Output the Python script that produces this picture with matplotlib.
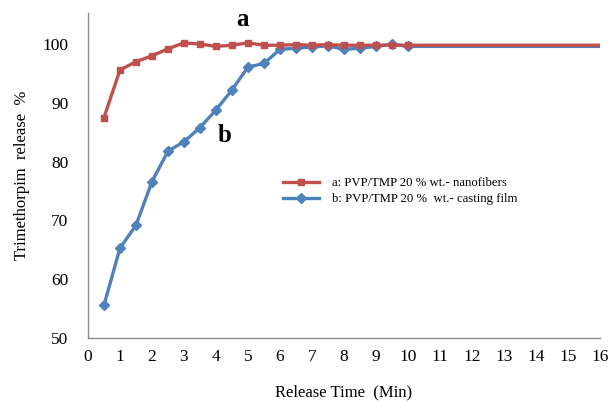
import matplotlib
matplotlib.use("Agg")
import matplotlib.pyplot as plt

plt.rcParams['font.family'] = ['Liberation Serif', 'DejaVu Serif']

# release data
time_min = [0.5, 1, 1.5, 2, 2.5, 3, 3.5, 4, 4.5, 5, 5.5, 6, 6.5, 7, 7.5,
            8, 8.5, 9, 9.5, 10, 16]
release_a = [87.5, 95.6, 97.0, 98.0, 99.2, 100.2, 100.0, 99.6, 99.8, 100.2,
             99.8, 99.8, 99.9, 99.8, 99.9, 99.8, 99.8, 99.8, 99.8, 99.8, 99.8]
release_b = [55.6, 65.3, 69.2, 76.6, 81.8, 83.4, 85.8, 88.8, 92.2, 96.1,
             96.7, 99.1, 99.3, 99.5, 99.7, 99.1, 99.3, 99.6, 100.0, 99.6, 99.6]
label_a = "a: PVP/TMP 20 % wt.- nanofibers"
label_b = "b: PVP/TMP 20 %  wt.- casting film"
x_ticks = list(range(0, 17))
y_ticks = [50, 60, 70, 80, 90, 100]

red = "#C0504D"
blue = "#4F81BD"

fig = plt.figure(figsize=(6.11, 4.03), dpi=100)
ax = fig.add_axes([0.144, 0.161, 0.838, 0.807])

marks = list(range(len(time_min) - 1))
ax.plot(time_min, release_b, color=blue, lw=2.4, marker="D", ms=5,
        markevery=marks, label=label_b, zorder=2)
ax.plot(time_min, release_a, color=red, lw=2.4, marker="s", ms=4.5,
        markevery=marks, label=label_a, zorder=3)

ax.set_xlim(0, 16)
ax.set_ylim(50, 105.3)
ax.set_xticks(x_ticks)
ax.set_yticks(y_ticks)
ax.tick_params(axis="both", length=0, labelsize=12.5)
ax.tick_params(axis="x", pad=8)
ax.tick_params(axis="y", pad=14)

for side in ("top", "right"):
    ax.spines[side].set_visible(False)
for side in ("left", "bottom"):
    ax.spines[side].set_color("#8c8c8c")
    ax.spines[side].set_linewidth(1.0)

ax.set_xlabel("Release Time  (Min)", fontsize=12, labelpad=14)
ax.set_ylabel("Trimethorpim  release  %", fontsize=12, labelpad=9)

ax.text(4.84, 104.1, "a", fontsize=18, fontweight="bold", ha="center", va="center")
ax.text(4.28, 84.5, "b", fontsize=18, fontweight="bold", ha="center", va="center")

handles, labels = ax.get_legend_handles_labels()
ax.legend(handles[::-1], labels[::-1], loc="upper left",
          bbox_to_anchor=(0.371, 0.511), frameon=False, fontsize=9.2,
          handlelength=2.8, handletextpad=1.0, labelspacing=0.33,
          borderaxespad=0)

fig.savefig("out.png", dpi=100)
